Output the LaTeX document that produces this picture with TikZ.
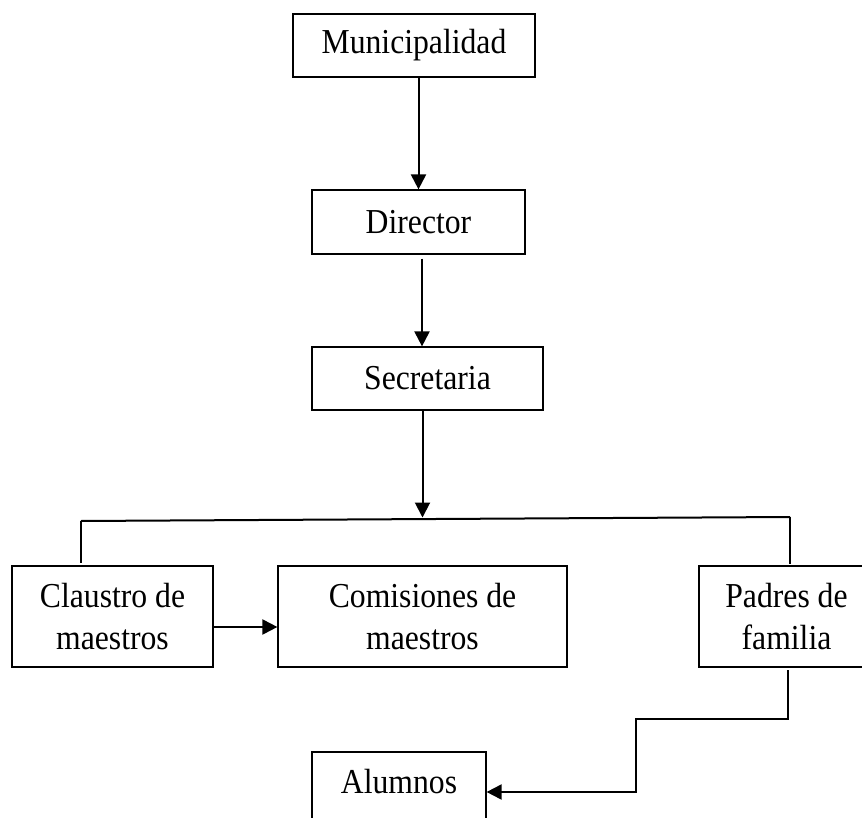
\documentclass[tikz,border=0pt]{standalone}
\usepackage{fontspec}
\setmainfont{Liberation Serif}[FakeStretch=0.905]
\usetikzlibrary{arrows.meta}
\begin{document}
\begin{tikzpicture}[x=1pt,y=-1pt,
  box/.style={draw, line width=1.2pt, inner sep=0pt, align=center,
    font=\fontsize{35}{42}\selectfont},
  arr/.style={line width=2pt, -{Triangle[length=15pt,width=15pt]}},
  ln/.style={line width=2pt}]
\useasboundingbox (0,0) rectangle (862,818);
\begin{scope}
\clip (0,0) rectangle (862,818);
\node[box, minimum width=242pt, minimum height=63pt] (muni) at (414,45.5) {Municipalidad};
\node[box, minimum width=213pt, minimum height=64pt] (dir) at (418.5,222) {Director};
\node[box, minimum width=231pt, minimum height=63pt] (sec) at (427.5,378.5) {Secretaria};
\node[box, minimum width=201pt, minimum height=101pt] (clau) at (112.5,616.5) {Claustro de\\maestros};
\node[box, minimum width=289pt, minimum height=101pt] (comi) at (422.5,616.5) {Comisiones de\\maestros};
\node[box, minimum width=175pt, minimum height=101pt] (padres) at (786.5,616.5) {Padres de\\familia};
\node[box, minimum width=174pt, minimum height=101pt] (alum) at (399,802.5) {Alumnos\\\mbox{}};

\coordinate (bl) at (81,521);
\coordinate (br) at (790,517);
\coordinate (bm) at (422.5,517.5);
\coordinate (cl) at (81,563);
\coordinate (cr) at (790,564);
\coordinate (p1) at (788,670);
\coordinate (p2) at (788,719);
\coordinate (p3) at (636,719);
\coordinate (p4) at (636,792);

\draw[arr] (dir.north |- muni.south) -- (dir.north);
\draw[arr] ([xshift=3.5pt,yshift=-4pt]dir.south) -- ([xshift=3.5pt]dir.south |- sec.north);
\draw[arr] ([xshift=-5pt]sec.south) -- (bm);
\draw[ln] (bl) -- (br);
\draw[ln] (bl) -- (cl);
\draw[ln] (br) -- (cr);
\draw[arr] ([yshift=-10.5pt]clau.east) -- ([yshift=-10.5pt]comi.west);
\draw[arr] (p1) -- (p2) -- (p3) -- (p4) -- (p4 -| alum.east);
\end{scope}
\end{tikzpicture}
\end{document}
